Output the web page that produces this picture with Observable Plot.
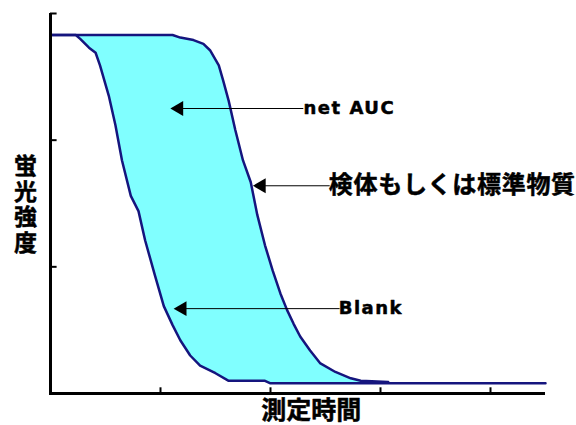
<!DOCTYPE html>
<html>
<head>
<meta charset="utf-8">
<script src="https://cdn.jsdelivr.net/npm/d3@7"></script>
<script src="https://cdn.jsdelivr.net/npm/@observablehq/plot@0.6"></script>
<style>
  html, body { margin: 0; padding: 0; background: #fff; }
  svg { display: block; }
</style>
</head>
<body>
<div id="chart"></div>
<script>
// Blank curve (time, fluorescence)
const blankX = [0.00, 0.23, 0.27, 0.35, 0.41, 0.45, 0.53, 0.59, 0.65, 0.73, 0.80, 0.86, 0.95, 1.03, 1.11, 1.18, 1.27, 1.36, 1.50, 1.62, 1.95, 2.00, 4.50];
const blankY = [2.83, 2.83, 2.80, 2.73, 2.69, 2.59, 2.35, 2.12, 1.84, 1.56, 1.44, 1.21, 0.93, 0.69, 0.54, 0.42, 0.30, 0.22, 0.16, 0.10, 0.10, 0.08, 0.08];
// Sample / standard curve
const sampleX = [0.00, 1.11, 1.18, 1.30, 1.39, 1.45, 1.53, 1.57, 1.62, 1.68, 1.75, 1.82, 1.88, 1.95, 2.02, 2.09, 2.15, 2.21, 2.27, 2.36, 2.45, 2.59, 2.73, 2.82, 3.07];
const sampleY = [2.83, 2.83, 2.81, 2.79, 2.76, 2.71, 2.59, 2.47, 2.31, 2.08, 1.84, 1.67, 1.41, 1.17, 0.97, 0.79, 0.66, 0.55, 0.45, 0.34, 0.24, 0.17, 0.12, 0.10, 0.09];
// Axis ticks
const xTicks = [1, 2, 3, 4];
const yTicks = [1, 2, 3];
// Annotations: arrow tip x, arrow tail x, y, label x, label
const annLabels = ["net AUC", "検体もしくは標準物質", "Blank"];
const annTipX = [1.09, 1.84, 1.12];
const annTailX = [2.23, 2.47, 2.56];
const annY = [2.25, 1.64, 0.67];
const annLabelX = [2.30, 2.53, 2.62];
const xLabel = "測定時間";
const yLabel = "蛍光強度";

const blank = blankX.map((x, i) => ({x, y: blankY[i]}));
const sample = sampleX.map((x, i) => ({x, y: sampleY[i]}));
const ann = annLabels.map((label, i) => ({label, tip: annTipX[i], tail: annTailX[i], y: annY[i], lx: annLabelX[i], jp: /[^\x00-\x7f]/.test(label)}));

const lineColor = "#15157e";

const chart = Plot.plot({
  width: 576,
  height: 425,
  marginLeft: 50,
  marginRight: 31,
  marginTop: 13,
  marginBottom: 32,
  x: {domain: [0, 4.5], axis: null},
  y: {domain: [0, 3], axis: null},
  style: {background: "#fff", overflow: "visible"},
  marks: [
    Plot.areaY(sample, {x: "x", y: "y", fill: "#80ffff"}),
    Plot.areaY(blank, {x: "x", y: "y", fill: "#ffffff"}),
    Plot.line(sample, {x: "x", y: "y", stroke: lineColor, strokeWidth: 2.5}),
    Plot.line(blank, {x: "x", y: "y", stroke: lineColor, strokeWidth: 2.5}),
    // axes
    Plot.ruleX([0], {y1: -0.015, y2: 3, stroke: "#000", strokeWidth: 3}),
    Plot.ruleY([0], {x1: 0, x2: 4.5, stroke: "#000", strokeWidth: 3}),
    Plot.ruleX(xTicks, {y1: 0, y2: 0.045, stroke: "#000", strokeWidth: 2}),
    Plot.ruleY(yTicks, {x1: 0, x2: 0.06, stroke: "#000", strokeWidth: 2}),
    // arrows
    Plot.ruleY(ann, {y: "y", x1: "tip", x2: "tail", dx: 8, stroke: "#000", strokeWidth: 1}),
    Plot.dot(ann, {x: "tip", y: "y", symbol: "triangle", r: 5.5, rotate: -90, dx: 8.5, fill: "#000", stroke: "none"}),
    Plot.text(ann.filter(d => !d.jp), {x: "lx", y: "y", text: "label", textAnchor: "start", fontSize: 18, fontWeight: "bold", fontFamily: "DejaVu Sans, sans-serif", fill: "#000", stroke: "#000", strokeWidth: 0.5}),
    Plot.text(ann.filter(d => d.jp), {x: "lx", y: "y", text: "label", textAnchor: "start", fontSize: 24, fontWeight: "bold", fontFamily: "Noto Sans CJK JP, sans-serif", fill: "#000", stroke: "#000", strokeWidth: 0.5}),
    // axis labels
    Plot.text([xLabel], {x: 2.37, frameAnchor: "bottom", dy: 25, text: d => d, textAnchor: "middle", fontSize: 25, fontWeight: "bold", fontFamily: "Noto Sans CJK JP, sans-serif", fill: "#000", stroke: "#000", strokeWidth: 0.5}),
    Plot.text([yLabel], {frameAnchor: "left", dx: -25, text: d => d, textAnchor: "middle", fontSize: 23, fontWeight: "bold", fontFamily: "Noto Sans CJK JP, sans-serif", fill: "#000", stroke: "#000", strokeWidth: 0.5})
  ]
});

// text tweaks: widen Latin labels, stack the y label vertically
d3.select(chart).selectAll("text").each(function() {
  const t = this.textContent;
  if (t === "net AUC" || t === "Blank") this.setAttribute("letter-spacing", "1.5");
  if (t.startsWith("検体")) this.setAttribute("letter-spacing", "0.7");
  if (t === yLabel) {
    this.setAttribute("dy", "-6");
    this.setAttribute("writing-mode", "vertical-rl");
    this.style.writingMode = "vertical-rl";
    this.setAttribute("letter-spacing", "2.5");
  }
});

document.getElementById("chart").appendChild(chart);
</script>
</body>
</html>
